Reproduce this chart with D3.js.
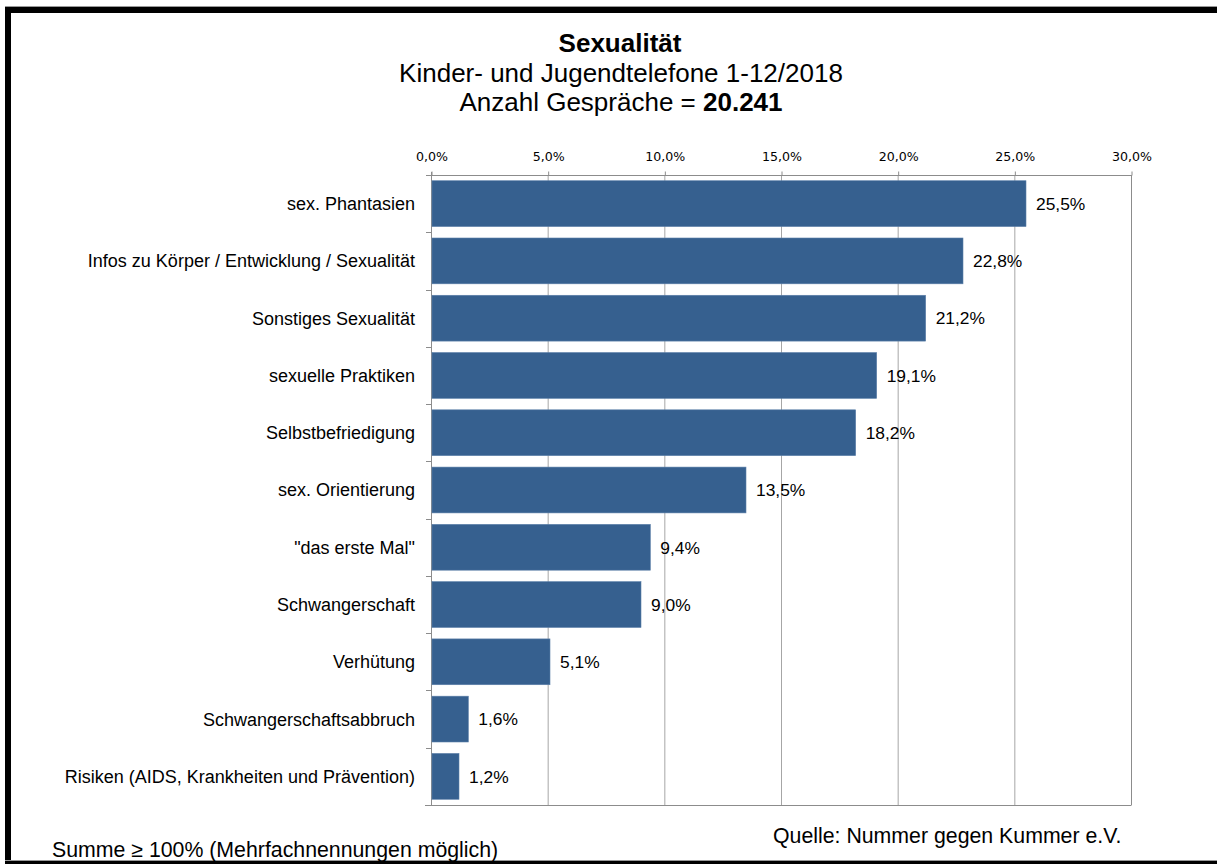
<!DOCTYPE html>
<html>
<head>
<meta charset="utf-8">
<script src="https://cdn.jsdelivr.net/npm/d3@7"></script>
<style>
  body { margin: 0; background: #fff; }
  svg { display: block; }
</style>
</head>
<body>
<div id="chart"></div>
<script>
const categories = [
  "sex. Phantasien",
  "Infos zu Körper / Entwicklung / Sexualität",
  "Sonstiges Sexualität",
  "sexuelle Praktiken",
  "Selbstbefriedigung",
  "sex. Orientierung",
  "\"das erste Mal\"",
  "Schwangerschaft",
  "Verhütung",
  "Schwangerschaftsabbruch",
  "Risiken (AIDS, Krankheiten und Prävention)"
];
const values = [25.5, 22.8, 21.2, 19.1, 18.2, 13.5, 9.4, 9.0, 5.1, 1.6, 1.2];
const xTicks = [0, 5, 10, 15, 20, 25, 30];

const W = 1217, H = 864;
const margin = {top: 175, right: 86, bottom: 59, left: 431};
const width = W - margin.left - margin.right;
const height = H - margin.top - margin.bottom;

const fmt = v => v.toFixed(1).replace(".", ",") + "%";
const sans = "'Liberation Sans', Arial, sans-serif";

const svg = d3.select("#chart").append("svg")
  .attr("width", W)
  .attr("height", H);

// frame
svg.append("rect").attr("x", 0).attr("y", 0).attr("width", W).attr("height", H).attr("fill", "#fff");
svg.append("rect").attr("x", 5).attr("y", 6).attr("width", W - 5).attr("height", 1).attr("fill", "#999");
svg.append("rect").attr("x", 5).attr("y", 7).attr("width", W - 5).attr("height", 6).attr("fill", "#000");
svg.append("rect").attr("x", 5).attr("y", 7).attr("width", 6).attr("height", H - 7).attr("fill", "#000");
svg.append("rect").attr("x", 5).attr("y", 860).attr("width", W - 5).attr("height", 1).attr("fill", "#999");
svg.append("rect").attr("x", 5).attr("y", 861).attr("width", W - 5).attr("height", 3).attr("fill", "#000");

// titles
const title = svg.append("g").attr("font-family", sans)
  .attr("text-anchor", "middle").attr("fill", "#000");
title.append("text").attr("x", 620).attr("y", 52)
  .attr("font-size", "26px").attr("font-weight", "bold").text("Sexualität");
title.append("text").attr("x", 621).attr("y", 82)
  .attr("font-size", "26px").text("Kinder- und Jugendtelefone 1-12/2018");
const t3 = title.append("text").attr("x", 621).attr("y", 111).attr("font-size", "26px");
t3.append("tspan").text("Anzahl Gespräche = ");
t3.append("tspan").attr("font-weight", "bold").text("20.241");

const g = svg.append("g").attr("transform", `translate(${margin.left},${margin.top})`);

const x = d3.scaleLinear().domain([0, 30]).range([0, width]);
const y = d3.scaleBand().domain(categories).range([0, height]).paddingInner(0.2).paddingOuter(0.1);

// gridlines
g.append("g").selectAll("line")
  .data(xTicks.slice(1))
  .enter().append("line")
  .attr("x1", d => x(d) + 0.5).attr("x2", d => x(d) + 0.5)
  .attr("y1", 0).attr("y2", height)
  .attr("stroke", "#a6a6a6").attr("stroke-width", 1);

// top axis
const xAxis = g.append("g")
  .attr("transform", "translate(0.5,0.5)")
  .call(d3.axisTop(x).tickValues(xTicks).tickSize(4).tickPadding(11).tickFormat(fmt));
xAxis.select(".domain").attr("stroke", "#8c8c8c").attr("d", `M0,0H${width}`);
xAxis.selectAll(".tick line").attr("stroke", "#8c8c8c");
xAxis.selectAll(".tick text")
  .attr("font-family", "'DejaVu Sans', Verdana, sans-serif")
  .attr("font-size", "12.6px").attr("fill", "#000");

// frame lines: right and bottom
g.append("line").attr("x1", width + 0.5).attr("x2", width + 0.5).attr("y1", 0).attr("y2", height)
  .attr("stroke", "#8c8c8c");
g.append("line").attr("x1", -6).attr("x2", width + 0.5).attr("y1", height + 0.5).attr("y2", height + 0.5)
  .attr("stroke", "#8c8c8c");

// left axis with boundary ticks
const boundaries = d3.range(categories.length + 1).map(i => i * height / categories.length);
g.append("line").attr("x1", 0.5).attr("x2", 0.5).attr("y1", -3).attr("y2", height)
  .attr("stroke", "#8c8c8c");
g.append("g").selectAll("line")
  .data(boundaries)
  .enter().append("line")
  .attr("x1", -5).attr("x2", 0.5)
  .attr("y1", d => Math.round(d) + 0.5).attr("y2", d => Math.round(d) + 0.5)
  .attr("stroke", "#8c8c8c");

// bars
g.append("g").selectAll("rect")
  .data(values)
  .enter().append("rect")
  .attr("x", 1)
  .attr("y", (d, i) => y(categories[i]))
  .attr("width", d => x(d) - 1)
  .attr("height", y.bandwidth())
  .attr("fill", "#36608f")
  .attr("stroke", "#5b7fa8")
  .attr("stroke-width", 0.6);

// value labels
g.append("g").selectAll("text")
  .data(values)
  .enter().append("text")
  .attr("x", d => x(d) + 10)
  .attr("y", (d, i) => y(categories[i]) + y.bandwidth() / 2)
  .attr("dy", "0.36em")
  .attr("font-family", sans)
  .attr("font-size", "17.4px")
  .attr("fill", "#000")
  .text(fmt);

// category labels
g.append("g").selectAll("text")
  .data(categories)
  .enter().append("text")
  .attr("x", -16)
  .attr("y", d => y(d) + y.bandwidth() / 2)
  .attr("dy", "0.36em")
  .attr("text-anchor", "end")
  .attr("font-family", sans)
  .attr("font-size", "18px")
  .attr("fill", "#000")
  .text(d => d);

// footer notes
svg.append("text").attr("x", 773).attr("y", 843)
  .attr("font-family", sans)
  .attr("font-size", "21.3px").attr("fill", "#000")
  .text("Quelle: Nummer gegen Kummer e.V.");
svg.append("text").attr("x", 52).attr("y", 857)
  .attr("font-family", sans)
  .attr("font-size", "21.3px").attr("fill", "#000")
  .text("Summe ≥ 100% (Mehrfachnennungen möglich)");
</script>
</body>
</html>
